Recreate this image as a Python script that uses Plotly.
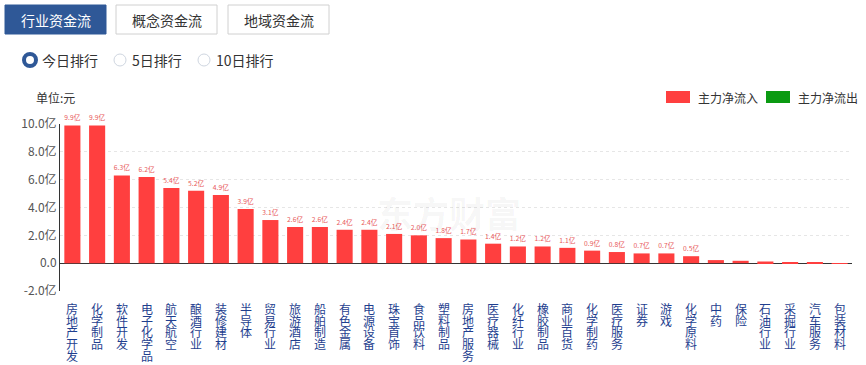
import plotly.graph_objects as go

categories = ["房地产开发", "化学制品", "软件开发", "电子化学品", "航天航空", "酿酒行业", "装修建材",
              "半导体", "贸易行业", "旅游酒店", "船舶制造", "有色金属", "电源设备", "珠宝首饰",
              "食品饮料", "塑料制品", "房地产服务", "医疗器械", "化纤行业", "橡胶制品", "商业百货",
              "化学制药", "医疗服务", "证券", "游戏", "化学原料", "中药", "保险", "石油行业",
              "采掘行业", "汽车服务", "包装材料"]
values = [9.9, 9.9, 6.3, 6.2, 5.4, 5.2, 4.9, 3.9, 3.1, 2.6, 2.6, 2.4, 2.4, 2.1, 2.0, 1.8, 1.7,
          1.4, 1.2, 1.2, 1.1, 0.9, 0.8, 0.7, 0.7, 0.5, 0.22, 0.17, 0.12, 0.06, 0.03, 0.01]
show_label = [v >= 0.45 for v in values]
tick_vals = [-2, 0, 2, 4, 6, 8, 10]
tick_text = ["-2.0亿", "0.0", "2.0亿", "4.0亿", "6.0亿", "8.0亿", "10.0亿"]

FONT = "Noto Sans CJK SC, Microsoft YaHei, sans-serif"
W, H = 866, 365
L, R, T, B = 60, 14, 124, 74
PW, PH = W - L - R, H - T - B


def px(x):
    return (x - L) / PW


def py(y):
    return (H - B - y) / PH


fig = go.Figure()
fig.add_trace(go.Bar(
    x=categories, y=values,
    marker=dict(color="#ff3f3f", line=dict(width=0)),
    text=[f"{v:.1f}亿" if s else "" for v, s in zip(values, show_label)],
    textposition="outside",
    textfont=dict(size=9.5, color="#e8595a", family=FONT),
    cliponaxis=False,
    hoverinfo="skip",
))

shapes = []
annotations = []

# Buttons
buttons = [("行业资金流", 5, 106, True), ("概念资金流", 116, 217, False), ("地域资金流", 228, 329, False)]
for label, x0, x1, active in buttons:
    shapes.append(dict(type="rect", xref="paper", yref="paper",
                       x0=px(x0), x1=px(x1), y0=py(34), y1=py(5),
                       fillcolor="#2f5897" if active else "#ffffff",
                       line=dict(color="#2f5897" if active else "#d0d0d0", width=1)))
    annotations.append(dict(text=label, xref="paper", yref="paper", x=px((x0 + x1) / 2), y=py(20),
                            xanchor="center", yanchor="middle", showarrow=False,
                            font=dict(size=14, color="#ffffff" if active else "#333333", family=FONT)))

# Radio buttons
radios = [("今日排行", 30, True), ("5日排行", 120, False), ("10日排行", 204, False)]
for label, cx, active in radios:
    r = 6
    shapes.append(dict(type="circle", xref="paper", yref="paper",
                       x0=px(cx - r), x1=px(cx + r), y0=py(60 + r), y1=py(60 - r),
                       fillcolor="#ffffff",
                       line=dict(color="#2f5897" if active else "#cfd6e0", width=4 if active else 1)))
    annotations.append(dict(text=label, xref="paper", yref="paper", x=px(cx + 10), y=py(60),
                            xanchor="left", yanchor="middle", showarrow=False,
                            font=dict(size=14, color="#333333", family=FONT)))

# Unit label
annotations.append(dict(text="单位:元", xref="paper", yref="paper", x=px(34), y=py(97),
                        xanchor="left", yanchor="middle", showarrow=False,
                        font=dict(size=12, color="#333333", family=FONT)))

# Legend
legend_items = [("主力净流入", 666, "#ff3f3f"), ("主力净流出", 766, "#0b9a12")]
for label, x0, col in legend_items:
    shapes.append(dict(type="rect", xref="paper", yref="paper",
                       x0=px(x0), x1=px(x0 + 24), y0=py(103), y1=py(91),
                       fillcolor=col, line=dict(width=0)))
    annotations.append(dict(text=label, xref="paper", yref="paper", x=px(x0 + 30), y=py(97),
                            xanchor="left", yanchor="middle", showarrow=False,
                            font=dict(size=12, color="#333333", family=FONT)))

# Watermark
annotations.append(dict(text="<b>东方财富</b>", xref="paper", yref="paper", x=px(449), y=py(212),
                        xanchor="center", yanchor="middle", showarrow=False,
                        font=dict(size=36, color="rgba(0,0,0,0.045)", family=FONT)))

# Vertical category labels
for cat in categories:
    for j, ch in enumerate(cat):
        annotations.append(dict(text=ch, xref="x", yref="paper", x=cat, y=0,
                                xanchor="center", yanchor="top", yshift=-7 - j * 11.7,
                                showarrow=False,
                                font=dict(size=12, color="#1f3f8f", family=FONT)))

fig.update_layout(
    width=W, height=H,
    margin=dict(l=L, r=R, t=T, b=B),
    paper_bgcolor="#ffffff", plot_bgcolor="#ffffff",
    showlegend=False,
    bargap=0.35,
    font=dict(family=FONT),
    shapes=shapes,
    annotations=annotations,
    xaxis=dict(showticklabels=False, showgrid=False, zeroline=False, showline=False,
               range=[-0.5, len(categories) - 0.5], fixedrange=True),
    yaxis=dict(range=[-2, 10], tickvals=tick_vals, ticktext=tick_text,
               tickfont=dict(size=12, color="#555555", family=FONT),
               showgrid=True, gridcolor="#e6e6e6", griddash="3px,3px", gridwidth=1,
               zeroline=True, zerolinecolor="#333333", zerolinewidth=1,
               showline=True, linecolor="#333333", linewidth=1, ticks="", ticklen=0,
               fixedrange=True),
)

fig.write_html("out.html",
               config={"displayModeBar": False},
               post_script="document.body.style.margin='0';document.body.style.overflow='hidden';")
